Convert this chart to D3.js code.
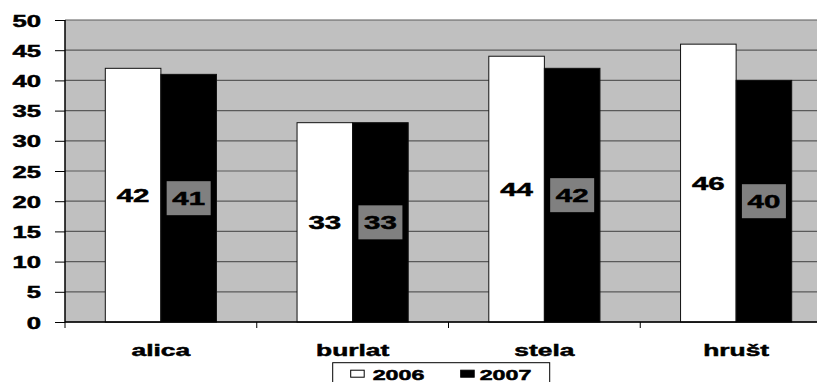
<!DOCTYPE html>
<html>
<head>
<meta charset="utf-8">
<script src="https://cdn.jsdelivr.net/npm/d3@7"></script>
<style>
  body { margin: 0; background: #fff; }
  text { font-family: "Liberation Sans", Arial, sans-serif; font-weight: bold;
         stroke: #000; stroke-width: 0.5px; }
</style>
</head>
<body>
<div id="chart"></div>
<script>
const categories = ["alica", "burlat", "stela", "hrušt"];
const series = ["2006", "2007"];
const values2006 = [42, 33, 44, 46];
const values2007 = [41, 33, 42, 40];
const yTicks = [0, 5, 10, 15, 20, 25, 30, 35, 40, 45, 50];

// the original picture is stretched horizontally, so text is widened too
const stretch = 1.55;

chart();

// widen a text element around its own anchor point
function widen(sel, s) {
    sel.each(function() {
        let t = d3.select(this);
        let x = +t.attr("x") || 0;
        let y = +t.attr("y") || 0;
        t.attr("x", 0).attr("y", 0)
            .attr("transform", "translate(" + x + "," + y + ") scale(" + s + ",1)");
    });
}

function chart() {
    let margin = { top: 20, right: -15, bottom: 60, left: 65 },
        width = 817 - margin.left - margin.right,
        height = 382 - margin.top - margin.bottom;

    let svg = d3.select("#chart").append("svg")
        .attr("width", 817)
        .attr("height", 382)
        .append("g")
        .attr("transform", "translate(" + margin.left + "," + margin.top + ")");

    let x = d3.scaleBand().domain(categories).range([0, width]).padding(0);
    let xs = d3.scaleBand().domain(series).range([40.3, x.bandwidth() - 40.3]).padding(0);
    let y = d3.scaleLinear().domain([0, 50]).range([height, 0]);

    let data = categories.map((c, i) => ({ cat: c, vals: [values2006[i], values2007[i]] }));

    // plot background
    svg.append("rect")
        .attr("width", width).attr("height", height)
        .attr("fill", "#c0c0c0");

    // gridlines
    svg.selectAll(".grid")
        .data(yTicks)
        .enter().append("line")
        .attr("x1", 0).attr("x2", width)
        .attr("y1", d => y(d)).attr("y2", d => y(d))
        .attr("stroke", "#5a5a5a").attr("stroke-width", 1.2);

    // bars
    let g = svg.selectAll(".cat")
        .data(data)
        .enter().append("g")
        .attr("transform", d => "translate(" + x(d.cat) + ",0)");

    g.selectAll("rect")
        .data(d => d.vals.map((v, i) => ({ s: series[i], v: v })))
        .enter().append("rect")
        .attr("x", d => xs(d.s))
        .attr("width", xs.bandwidth())
        .attr("y", d => y(d.v))
        .attr("height", d => height - y(d.v))
        .attr("fill", d => d.s === "2006" ? "#fff" : "#000")
        .attr("stroke", "#111").attr("stroke-width", 1);

    // value labels
    g.each(function(d) {
        let cg = d3.select(this);
        d.vals.forEach((v, i) => {
            let cx = xs(series[i]) + xs.bandwidth() / 2;
            let cy = (y(v) + height) / 2;
            if (i === 1) {
                cg.append("rect")
                    .attr("x", cx - 22).attr("y", cy - 17)
                    .attr("width", 44).attr("height", 34)
                    .attr("fill", "#808080");
            }
            let t = cg.append("text")
                .attr("x", cx).attr("y", cy + 7)
                .attr("text-anchor", "middle")
                .style("font-size", "19px")
                .attr("fill", "#000")
                .text(v);
            widen(t, stretch);
        });
    });

    // y axis
    let yAxis = svg.append("g")
        .call(d3.axisLeft(y).tickValues(yTicks).tickSize(10).tickPadding(14));
    yAxis.select(".domain").attr("stroke", "#000").attr("stroke-width", 1.5).attr("d", "M0,0V" + height);
    yAxis.selectAll(".tick line").attr("stroke", "#000");
    yAxis.selectAll("text").style("font-size", "16px").attr("fill", "#000")
        .attr("dy", null).attr("y", 6);
    widen(yAxis.selectAll("text"), 1.6);

    // x axis
    let xAxis = svg.append("g")
        .attr("transform", "translate(0," + height + ")")
        .call(d3.axisBottom(x).tickSize(0).tickPadding(22));
    xAxis.select(".domain").attr("stroke", "#000").attr("stroke-width", 1.5).attr("d", "M0,0H" + width);
    xAxis.selectAll("text").style("font-size", "17px").attr("fill", "#000")
        .attr("dy", null).attr("y", 34);
    widen(xAxis.selectAll("text"), stretch);
    svg.append("g").selectAll("line")
        .data(d3.range(categories.length + 1))
        .enter().append("line")
        .attr("x1", d => d * x.bandwidth()).attr("x2", d => d * x.bandwidth())
        .attr("y1", height).attr("y2", height + 6)
        .attr("stroke", "#000");

    // legend
    let leg = svg.append("g").attr("transform", "translate(" + (332.7 - margin.left) + "," + (362.7 - margin.top) + ")");
    leg.append("rect").attr("width", 217).attr("height", 30)
        .attr("fill", "#fff").attr("stroke", "#000").attr("stroke-width", 1);
    series.forEach((s, i) => {
        let lx = 18 + i * 110;
        leg.append("rect").attr("x", lx).attr("y", 7.5).attr("width", 13.5).attr("height", 7)
            .attr("fill", s === "2006" ? "#fff" : "#000").attr("stroke", "#000");
        let t = leg.append("text").attr("x", lx + 22 - i * 3).attr("y", 16.8)
            .style("font-size", "15px").text(s);
        widen(t, stretch);
    });
}
</script>
</body>
</html>
